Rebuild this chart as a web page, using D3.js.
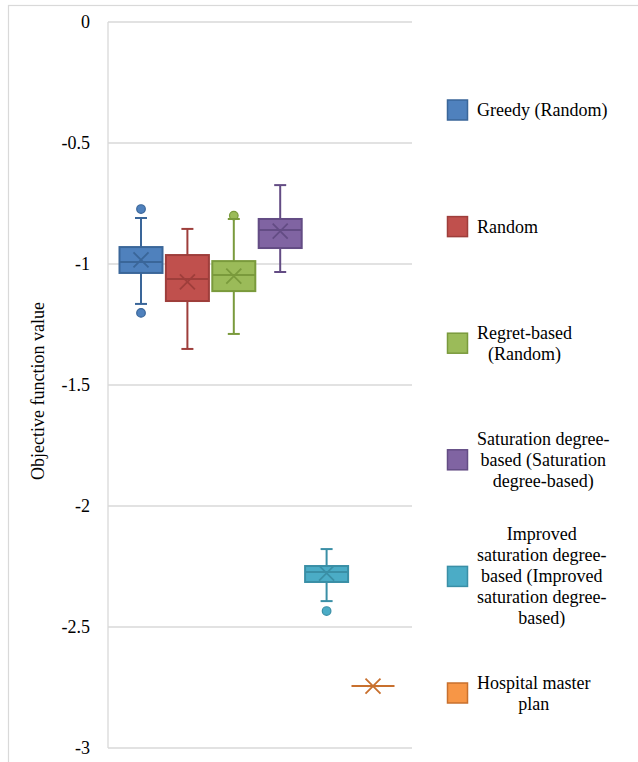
<!DOCTYPE html>
<html>
<head>
<meta charset="utf-8">
<script src="https://cdn.jsdelivr.net/npm/d3@7/dist/d3.min.js"></script>
<style>
  html, body { margin: 0; padding: 0; background: #fff; }
  svg { display: block; }
  text { font-family: "Liberation Serif", "DejaVu Serif", serif; fill: #000; }
</style>
</head>
<body>
<svg id="chart" width="638" height="762"></svg>
<script>
// Series names (legend labels, "\n" marks where the label wraps)
const seriesNames = [
  "Greedy (Random)",
  "Random",
  "Regret-based\n(Random)",
  "Saturation degree-\nbased (Saturation\ndegree-based)",
  "Improved\nsaturation degree-\nbased (Improved\nsaturation degree-\nbased)",
  "Hospital master\nplan"
];

// Box-plot statistics per series
const whiskerLow  = [-1.165, -1.351, -1.289, -1.033, -2.393, -2.744];
const q1Values    = [-1.037, -1.153, -1.112, -0.934, -2.314, -2.744];
const medians     = [-0.992, -1.062, -1.045, -0.860, -2.273, -2.744];
const q3Values    = [-0.930, -0.963, -0.988, -0.814, -2.248, -2.744];
const whiskerHigh = [-0.810, -0.855, -0.814, -0.674, -2.178, -2.744];
const means       = [-0.983, -1.074, -1.050, -0.864, -2.277, -2.744];
const outliers    = [[-0.773, -1.202], [], [-0.800], [], [-2.434], []];

// Y axis ticks
const yTicks = [0, -0.5, -1, -1.5, -2, -2.5, -3];
const yTitle = "Objective function value";

// Fill / outline colours
const fills   = ["#4F81BD", "#C0504D", "#9BBB59", "#8064A2", "#4BACC6", "#F79646"];
const strokes = ["#3A6699", "#9E3E3B", "#7A9A3C", "#634C84", "#3A8FA6", "#C8702E"];

const FONT = "'Liberation Serif', 'DejaVu Serif', serif";
const svg = d3.select("#chart");

// Outer chart frame
svg.append("rect")
  .attr("x", 8.5).attr("y", 5.5)
  .attr("width", 660).attr("height", 780)
  .attr("fill", "none").attr("stroke", "#d9d9d9").attr("stroke-width", 1.2);

const plot = { left: 108, right: 412, top: 22, bottom: 748 };

const y = d3.scaleLinear().domain([-3, 0]).range([plot.bottom, plot.top]);
const x = d3.scaleBand().domain(seriesNames).range([119.5, 394.5]).paddingInner(0.073).paddingOuter(0);

// Horizontal gridlines
svg.append("g").selectAll("line").data(yTicks).join("line")
  .attr("x1", plot.left).attr("x2", plot.right)
  .attr("y1", d => y(d)).attr("y2", d => y(d))
  .attr("stroke", "#d9d9d9").attr("stroke-width", 1.3);

// Left edge of the plot area
svg.append("line")
  .attr("x1", plot.left).attr("x2", plot.left)
  .attr("y1", y(0)).attr("y2", y(-3))
  .attr("stroke", "#d9d9d9").attr("stroke-width", 1.3);

// Y axis tick labels (plain hyphen for negatives)
const yAxis = d3.axisLeft(y).tickValues(yTicks).tickSize(0).tickPadding(0)
  .tickFormat(d => String(d));
const yg = svg.append("g").attr("transform", `translate(90,0)`).call(yAxis);
yg.attr("font-family", FONT);
yg.select(".domain").remove();
yg.selectAll("text")
  .style("font-family", FONT)
  .attr("font-size", 18).attr("fill", "#000");

// Y axis title
svg.append("text")
  .attr("transform", `translate(38,${(plot.top + plot.bottom) / 2 + 6}) rotate(-90)`)
  .attr("text-anchor", "middle").attr("dominant-baseline", "central")
  .style("font-family", FONT)
  .attr("font-size", 18)
  .text(yTitle);

// Box plots
const bw = x.bandwidth();
const capHalf = 6;
const markHalf = 7.5;
seriesNames.forEach((name, i) => {
  const g = svg.append("g");
  const cx = x(name) + bw / 2;
  const col = strokes[i];

  // whiskers
  g.append("line").attr("x1", cx).attr("x2", cx)
    .attr("y1", y(whiskerHigh[i])).attr("y2", y(q3Values[i]))
    .attr("stroke", col).attr("stroke-width", 2);
  g.append("line").attr("x1", cx).attr("x2", cx)
    .attr("y1", y(q1Values[i])).attr("y2", y(whiskerLow[i]))
    .attr("stroke", col).attr("stroke-width", 2);

  // outliers (drawn below caps)
  g.selectAll("circle").data(outliers[i]).join("circle")
    .attr("cx", cx).attr("cy", d => y(d)).attr("r", 4.3)
    .attr("fill", fills[i]).attr("stroke", col).attr("stroke-width", 1.2);

  // caps
  [whiskerHigh[i], whiskerLow[i]].forEach(v => {
    g.append("line").attr("x1", cx - capHalf).attr("x2", cx + capHalf)
      .attr("y1", y(v)).attr("y2", y(v))
      .attr("stroke", col).attr("stroke-width", 2);
  });

  // box
  g.append("rect")
    .attr("x", x(name)).attr("width", bw)
    .attr("y", y(q3Values[i])).attr("height", y(q1Values[i]) - y(q3Values[i]))
    .attr("fill", fills[i]).attr("stroke", col).attr("stroke-width", 2);

  // median
  g.append("line").attr("x1", x(name)).attr("x2", x(name) + bw)
    .attr("y1", y(medians[i])).attr("y2", y(medians[i]))
    .attr("stroke", col).attr("stroke-width", 2);

  // mean marker (X)
  const my = y(means[i]);
  g.append("path")
    .attr("d", `M${cx - markHalf},${my - markHalf}L${cx + markHalf},${my + markHalf}M${cx - markHalf},${my + markHalf}L${cx + markHalf},${my - markHalf}`)
    .attr("stroke", col).attr("stroke-width", 1.8).attr("fill", "none");
});

// Legend
const legendTop = 110, legendStep = 116.6, lineH = 21;
const lg = svg.append("g");
seriesNames.forEach((name, i) => {
  const cy = legendTop + i * legendStep;
  lg.append("rect")
    .attr("x", 447.5).attr("y", cy - 10).attr("width", 20).attr("height", 20)
    .attr("fill", fills[i]).attr("stroke", strokes[i]).attr("stroke-width", 1.5);
  const lines = name.split("\n");
  const t = lg.append("text").attr("font-size", 18).style("font-family", FONT);
  const spans = lines.map((ln, k) =>
    t.append("tspan")
      .attr("y", cy + 6 + (k - (lines.length - 1) / 2) * lineH)
      .text(ln));
  if (lines.length === 1) {
    spans.forEach(s => s.attr("x", 477));
  } else {
    const w = d3.max(spans, s => s.node().getComputedTextLength());
    t.attr("text-anchor", "middle");
    spans.forEach(s => s.attr("x", 477 + w / 2));
  }
});
</script>
</body>
</html>
